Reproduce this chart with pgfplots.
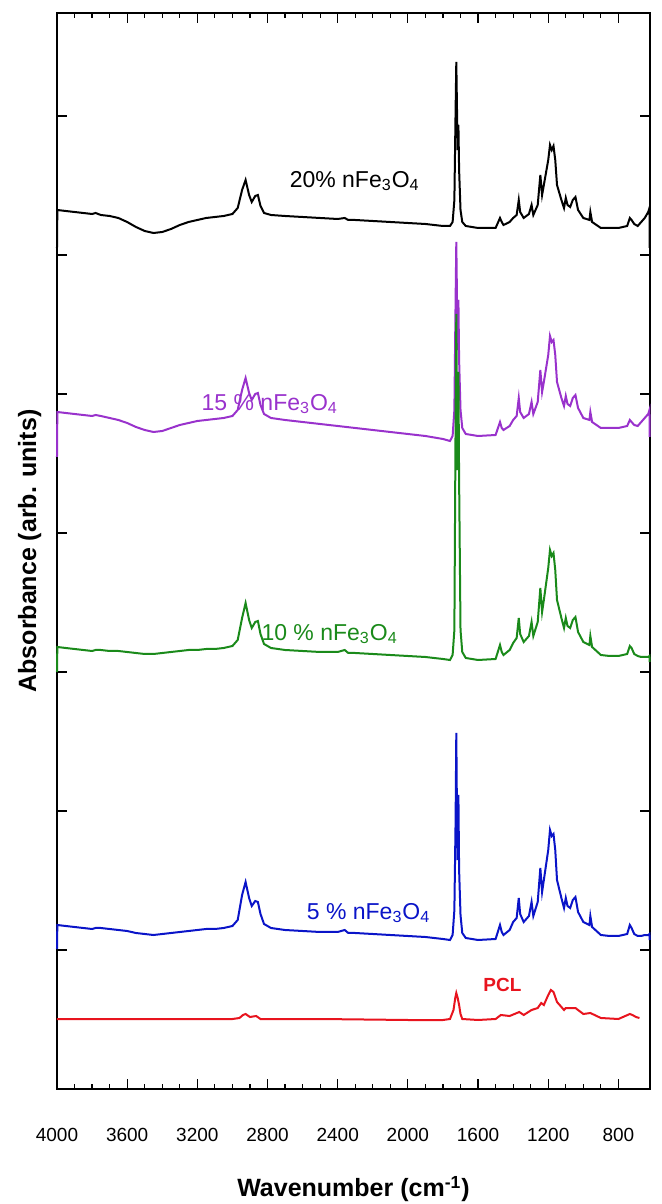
\documentclass[border=0pt]{standalone}
\usepackage{fontspec}
\setmainfont{Liberation Sans}
\usepackage{pgfplots}
\pgfplotsset{compat=1.18}
\definecolor{cblack}{HTML}{000000}
\definecolor{cpurple}{HTML}{9932CC}
\definecolor{cgreen}{HTML}{1A8A1A}
\definecolor{cblue}{HTML}{0A14C8}
\definecolor{cred}{HTML}{E8141E}

\begin{document}
\begin{tikzpicture}
\path[use as bounding box] (-28.5pt,-57.5pt) rectangle (302.5pt,544.5pt);
\begin{axis}[
  scale only axis, width=296.5pt, height=538pt,
  at={(0,0)}, anchor=south west,
  x dir=reverse, xmin=620, xmax=4000,
  ymin=0, ymax=1076,
  xtick={800,1200,...,4000}, minor x tick num=3,
  ytick={139,278,417,556,695,834,973}, yticklabels={},
  tick align=inside, major tick length=5pt, minor tick length=2.5pt,
  axis line style={line width=0.9pt},
  every tick/.style={black, line width=0.6pt},
  /pgf/number format/assume math mode=true,
  /pgf/number format/1000 sep={},
  xticklabel style={font=\fontsize{9.5}{10}\selectfont, yshift=-16pt},
  xlabel={\textbf{Wavenumber (cm\textsuperscript{-1})}},
  ylabel={\textbf{Absorbance (arb. units)}},
  xlabel style={at={(axis description cs:0.5,-0.093)}, anchor=center, font=\fontsize{12.5}{14}\selectfont},
  ylabel style={at={(axis description cs:-0.046,0.5)}, anchor=center, rotate=0, font=\fontsize{12.5}{14}\selectfont},
  clip=false,
]
% 20% nFe3O4
\addplot[cblack, line width=1pt] coordinates {
(4000,841) (3998,879) (3950,878) (3900,877) (3850,876) (3800,875) (3780,876) (3750,874)
(3700,873) (3650,871) (3600,867) (3550,862) (3500,858) (3450,856) (3400,857) (3350,860)
(3300,864) (3250,867) (3200,869) (3150,871) (3100,872) (3050,873) (3000,875) (2970,881)
(2945,899) (2925,909) (2905,894) (2890,887) (2870,893) (2855,894) (2840,883) (2820,876)
(2780,874) (2700,873) (2600,872) (2500,871) (2400,870) (2360,871) (2340,869) (2300,869)
(2200,868) (2100,867) (2000,866) (1900,865) (1800,863) (1760,863) (1745,867) (1735,889)
(1728,979) (1724,1027) (1720,979) (1716,939) (1712,964) (1708,919) (1700,879) (1690,867)
(1670,863) (1600,861) (1500,861) (1475,871) (1465,867) (1455,864) (1420,867) (1400,871)
(1380,874) (1368,889) (1360,877) (1340,871) (1310,875) (1295,884) (1285,874) (1260,884)
(1245,914) (1235,894) (1225,904) (1200,929) (1190,944) (1180,939) (1170,943) (1160,929)
(1150,904) (1125,889) (1110,881) (1100,891) (1090,884) (1075,882) (1060,889) (1045,892)
(1030,879) (1000,871) (965,869) (960,877) (950,867) (900,861) (850,861) (800,861)
(750,863) (735,871) (725,869) (710,865) (690,863) (670,867) (650,871) (630,877)
(623,881) (622,841)
};
% 15 % nFe3O4
\addplot[cpurple, line width=1pt] coordinates {
(4000,632) (3998,677) (3950,676) (3900,675) (3850,674) (3800,673) (3780,674) (3750,673)
(3700,671) (3650,669) (3600,666) (3550,662) (3500,659) (3450,657) (3400,658) (3350,661)
(3300,664) (3250,666) (3200,668) (3150,669) (3100,670) (3050,671) (3000,673) (2970,679)
(2945,699) (2925,711) (2905,696) (2890,689) (2870,695) (2855,696) (2840,684) (2820,675)
(2780,671) (2700,669) (2600,667) (2500,665) (2400,663) (2300,661) (2200,659) (2100,657)
(2000,655) (1900,653) (1800,650) (1760,648) (1745,653) (1735,679) (1728,789) (1724,847)
(1720,789) (1716,739) (1712,789) (1708,729) (1700,679) (1690,661) (1670,655) (1600,653)
(1500,654) (1475,667) (1465,661) (1455,659) (1420,663) (1400,669) (1380,673) (1368,691)
(1360,677) (1340,671) (1310,675) (1295,687) (1285,675) (1260,687) (1245,719) (1235,697)
(1225,707) (1200,734) (1190,753) (1180,747) (1170,749) (1160,734) (1150,707) (1125,691)
(1110,683) (1100,693) (1090,685) (1075,683) (1060,691) (1045,694) (1030,681) (1000,671)
(965,669) (960,677) (950,667) (900,661) (850,661) (800,661) (750,663) (735,669)
(725,667) (710,664) (690,663) (670,667) (650,671) (630,675) (623,679) (622,652)
};
% 10 % nFe3O4
\addplot[cgreen, line width=1pt] coordinates {
(4000,417) (3998,442) (3950,441) (3900,440) (3850,439) (3800,438) (3780,439) (3750,439)
(3700,438) (3650,438) (3600,437) (3550,436) (3500,435) (3450,435) (3400,436) (3350,437)
(3300,438) (3250,439) (3200,439) (3150,440) (3100,440) (3050,441) (3000,443) (2970,449)
(2945,471) (2925,486) (2905,469) (2890,461) (2870,467) (2855,468) (2840,455) (2820,445)
(2780,441) (2700,439) (2600,438) (2500,437) (2400,437) (2360,439) (2340,436) (2300,436)
(2200,435) (2100,434) (2000,433) (1900,432) (1800,430) (1760,429) (1745,434) (1735,459)
(1728,669) (1724,775) (1720,669) (1716,619) (1712,717) (1708,609) (1700,459) (1690,437)
(1670,431) (1600,429) (1500,430) (1475,444) (1465,437) (1455,434) (1420,439) (1400,446)
(1380,451) (1368,471) (1360,455) (1340,447) (1310,453) (1295,467) (1285,453) (1260,467)
(1245,501) (1235,477) (1225,489) (1200,521) (1190,539) (1180,533) (1170,536) (1160,519)
(1150,489) (1125,471) (1110,461) (1100,471) (1090,463) (1075,461) (1060,469) (1045,472)
(1030,457) (1000,447) (965,444) (960,453) (950,442) (900,434) (850,433) (800,433)
(750,435) (735,443) (725,441) (710,435) (690,433) (670,432) (650,432) (630,432)
(623,433) (622,427)
};
% 5 % nFe3O4
\addplot[cblue, line width=1pt] coordinates {
(4000,140) (3998,164) (3950,163) (3900,162) (3850,161) (3800,160) (3780,161) (3750,161)
(3700,160) (3650,159) (3600,158) (3550,156) (3500,155) (3450,154) (3400,155) (3350,156)
(3300,157) (3250,158) (3200,159) (3150,160) (3100,160) (3050,161) (3000,163) (2970,169)
(2945,194) (2925,207) (2905,191) (2890,183) (2870,188) (2855,187) (2840,175) (2820,165)
(2780,161) (2700,159) (2600,158) (2500,157) (2400,157) (2360,159) (2340,156) (2300,156)
(2200,155) (2100,154) (2000,153) (1900,152) (1800,150) (1760,149) (1745,154) (1735,179)
(1728,269) (1724,356) (1720,269) (1716,229) (1712,294) (1708,219) (1700,174) (1690,156)
(1670,151) (1600,149) (1500,150) (1475,164) (1465,157) (1455,154) (1420,159) (1400,167)
(1380,171) (1368,191) (1360,175) (1340,167) (1310,173) (1295,187) (1285,173) (1260,187)
(1245,221) (1235,197) (1225,209) (1200,239) (1190,259) (1180,253) (1170,255) (1160,239)
(1150,209) (1125,191) (1110,181) (1100,191) (1090,183) (1075,181) (1060,189) (1045,192)
(1030,177) (1000,167) (965,164) (960,173) (950,162) (900,154) (850,153) (800,153)
(750,155) (735,164) (725,161) (710,155) (690,153) (670,153) (650,154) (630,154)
(623,155) (622,149)
};
% PCL
\addplot[cred, line width=1pt] coordinates {
(4000,70) (3500,70) (3000,70) (2960,71) (2940,74) (2925,75) (2900,72) (2865,73)
(2840,70) (2500,70) (2000,69) (1800,69) (1760,70) (1740,79) (1730,91) (1724,96)
(1716,91) (1708,84) (1700,75) (1690,70) (1600,69) (1500,70) (1470,74) (1420,73)
(1365,77) (1340,74) (1295,79) (1260,81) (1240,86) (1225,84) (1200,94) (1185,99)
(1170,97) (1150,87) (1110,79) (1100,81) (1045,81) (1000,75) (960,76) (900,71)
(800,70) (735,75) (720,74) (700,72) (680,71)
};
\node[font=\fontsize{11.5}{12}\selectfont, text=cblack] at (axis cs:2303,908) {20\% nFe\textsubscript{3}O\textsubscript{4}};
\node[font=\fontsize{11.5}{12}\selectfont, text=cpurple] at (axis cs:2787,685) {15 \% nFe\textsubscript{3}O\textsubscript{4}};
\node[font=\fontsize{11.5}{12}\selectfont, text=cgreen] at (axis cs:2446,455) {10 \% nFe\textsubscript{3}O\textsubscript{4}};
\node[font=\fontsize{11.5}{12}\selectfont, text=cblue] at (axis cs:2224,176) {5 \% nFe\textsubscript{3}O\textsubscript{4}};
\node[font=\fontsize{9.5}{10}\selectfont\bfseries, text=cred] at (axis cs:1461,104) {PCL};
\end{axis}
\end{tikzpicture}
\end{document}
